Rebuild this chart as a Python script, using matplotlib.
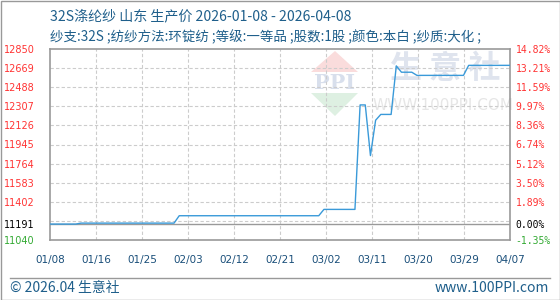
import numpy as np
import pandas as pd
import matplotlib
matplotlib.use("Agg")
import matplotlib.pyplot as plt
from matplotlib.patches import Polygon, Rectangle
from matplotlib.lines import Line2D

plt.rcParams['font.family'] = ['Noto Sans CJK SC', 'DejaVu Sans']

# 数据
dates = ["2026-01-08", "2026-01-13", "2026-01-14", "2026-02-01", "2026-02-02",
         "2026-03-01", "2026-03-02", "2026-03-08", "2026-03-09", "2026-03-10",
         "2026-03-11", "2026-03-12", "2026-03-13", "2026-03-15", "2026-03-16",
         "2026-03-17", "2026-03-19", "2026-03-20", "2026-03-29", "2026-03-30",
         "2026-04-07", "2026-04-08"]
prices = [11191, 11191, 11200, 11200, 11270,
          11270, 11330, 11330, 12320, 12320,
          11840, 12175, 12230, 12230, 12690,
          12630, 12630, 12600, 12600, 12695,
          12695, 12695]

base_price = 11191
y_levels = [11040, 11221, 11402, 11583, 11764, 11945, 12126, 12307, 12488, 12669, 12850]
left_labels = ["11040", "11191", "11402", "11583", "11764", "11945", "12126", "12307", "12488", "12669", "12850"]
label_prices = [11040, 11191, 11402, 11583, 11764, 11945, 12126, 12307, 12488, 12669, 12850]
right_labels = ["-1.35%", "0.00%", "1.89%", "3.50%", "5.12%", "6.74%", "8.36%", "9.97%", "11.59%", "13.21%", "14.82%"]
x_labels = ["01/08", "01/16", "01/25", "02/03", "02/12", "02/21", "03/02", "03/11", "03/20", "03/29", "04/07"]

title = "32S涤纶纱 山东 生产价 2026-01-08 - 2026-04-08"
subtitle = "纱支:32S ;纺纱方法:环锭纺 ;等级:一等品 ;股数:1股 ;颜色:本白 ;纱质:大化 ;"

start = pd.Timestamp(dates[0])
days = [(pd.Timestamp(d) - start).days for d in dates]
x_end = (pd.Timestamp("2026-04-07") - start).days

W, H = 560, 300
fig = plt.figure(figsize=(W / 100, H / 100), dpi=100)
ax = fig.add_axes([50 / W, 60 / H, 460 / W, 191 / H])

text_blue = "#1f5f8b"
grid_col = "#cccccc"
frame_col = "#999999"

# 水印
fig.add_artist(Polygon([(311 / W, 1 - 72 / H), (358 / W, 1 - 72 / H), (335 / W, 1 - 51 / H)],
                       closed=True, transform=fig.transFigure, facecolor="#fadcdc", edgecolor="none", zorder=0))
fig.add_artist(Polygon([(311 / W, 1 - 93 / H), (358 / W, 1 - 93 / H), (335 / W, 1 - 116 / H)],
                       closed=True, transform=fig.transFigure, facecolor="#def0e2", edgecolor="none", zorder=0))
ax.set_zorder(1)
ax.patch.set_alpha(0)
fig.text(335 / W, 1 - 83 / H, "PPI", color="#d8dfec", fontsize=15, fontweight="bold",
         ha="center", va="center", family="DejaVu Serif", zorder=0)
fig.text(445 / W, 1 - 69 / H, "生 意 社", color="#dfe4ee", fontsize=23, fontweight="bold",
         ha="center", va="center", zorder=0)
fig.text(443 / W, 1 - 105 / H, "WWW.100PPI.COM", color="#e6e6e6", fontsize=11,
         ha="center", va="center", family="DejaVu Sans", zorder=0)

# 网格
xt = np.linspace(0, x_end, len(x_labels))
for v in y_levels[1:-1]:
    ax.axhline(v, color=grid_col, lw=0.8, ls=(0, (3, 2)), zorder=1)
for v in xt[1:-1]:
    ax.axvline(v, color=grid_col, lw=0.8, ls=(0, (3, 2)), zorder=1)
ax.axhline(base_price, color=frame_col, lw=1.0, zorder=2)

ax.plot(days, prices, color="#3a9ad9", lw=1.0, zorder=3)

ax.set_xlim(0, x_end)
ax.set_ylim(y_levels[0], y_levels[-1])
for s in ax.spines.values():
    s.set_color(frame_col)
    s.set_linewidth(1.2)

ax.set_xticks(xt)
ax.set_xticklabels(x_labels, fontsize=7.5, color="#1a4f7a", family="DejaVu Sans")
ax.tick_params(axis="x", length=0, pad=11)

def lab_color(p):
    if p > base_price:
        return "#ff3333"
    if p < base_price:
        return "#33aa33"
    return "#000000"

ax.set_yticks(label_prices)
ax.set_yticklabels(left_labels, fontsize=7, family="DejaVu Sans")
ax.tick_params(axis="y", length=0, pad=11)
for t, p in zip(ax.get_yticklabels(), label_prices):
    t.set_color(lab_color(p))

ax2 = ax.twinx()
ax2.set_ylim(ax.get_ylim())
ax2.set_yticks(label_prices)
ax2.set_yticklabels(right_labels, fontsize=7, family="DejaVu Sans Mono")
ax2.tick_params(axis="y", length=0, pad=4)
for t, p in zip(ax2.get_yticklabels(), label_prices):
    t.set_color(lab_color(p))
for s in ax2.spines.values():
    s.set_visible(False)

# 标题
fig.text(50 / W, 1 - 16 / H, title, fontsize=10.1, color=text_blue, ha="left", va="center")
fig.text(50 / W, 1 - 37 / H, subtitle, fontsize=9.7, color=text_blue, ha="left", va="center")

# 底部
fig.add_artist(Line2D([10 / W, 550 / W], [1 - 277.5 / H] * 2, color=frame_col, lw=1.0,
                      transform=fig.transFigure))
fig.text(10 / W, 1 - 288 / H, "© 2026.04 生意社", fontsize=10, color=text_blue, ha="left", va="center")
fig.text(549 / W, 1 - 288 / H, "www.100PPI.com", fontsize=10, color=text_blue, ha="right", va="center")
fig.add_artist(Rectangle((0.5 / W, 0.5 / H), 1 - 1 / W, 1 - 1 / H, transform=fig.transFigure,
                         fill=False, edgecolor=frame_col, lw=1.0))

fig.savefig("out.png", dpi=100)
